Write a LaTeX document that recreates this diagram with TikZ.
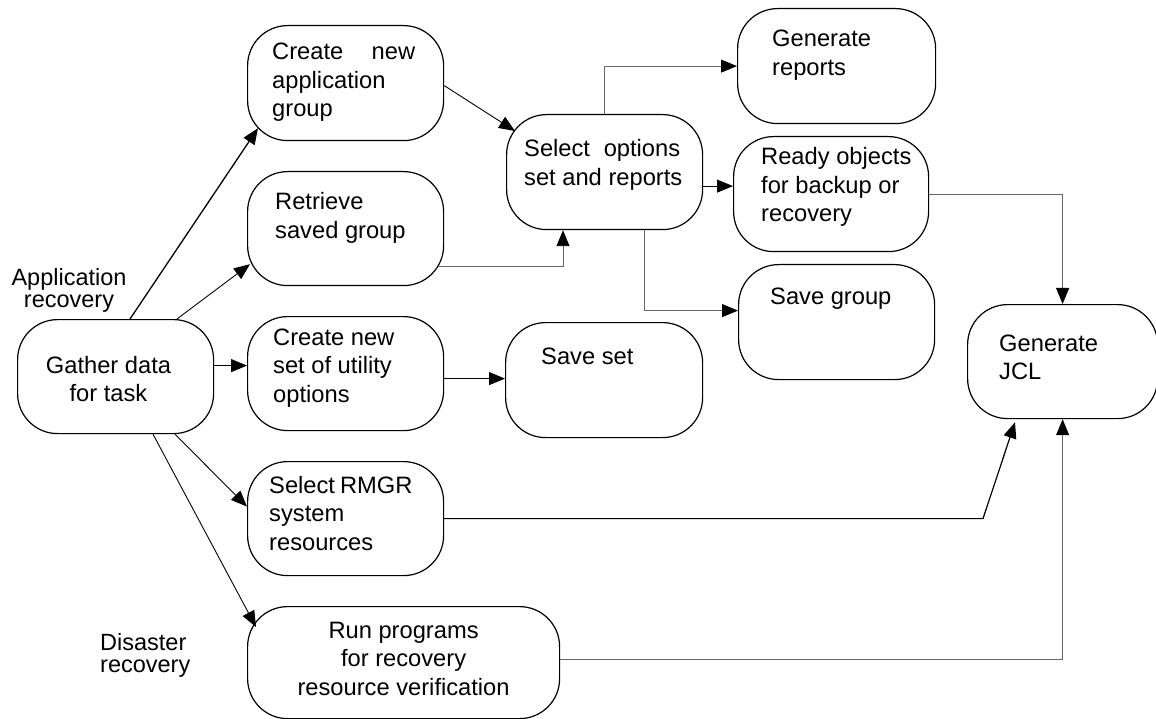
\documentclass[tikz,border=0pt]{standalone}
\usepackage{fontspec}
\setmainfont{Liberation Sans}
\usetikzlibrary{arrows.meta,calc}
\begin{document}
\begin{tikzpicture}[x=1pt,y=-1pt,
  stepbox/.style={draw, line width=1.2pt, rounded corners=40pt, inner sep=0pt,
    anchor=north west, minimum width=196pt, minimum height=115pt},
  txt/.style={inner sep=0pt, anchor=base west, font=\fontsize{23.7}{28.5}\selectfont},
  ctxt/.style={txt, anchor=base},
  lbl/.style={inner sep=0pt, font=\fontsize{23.5}{22}\selectfont},
  conn/.style={line width=0.9pt, -{Triangle[length=16pt,width=13pt,color=black]}},
  greyline/.style={draw=black!60},
  boldline/.style={line width=1.3pt}]
\useasboundingbox (0,0) rectangle (1156,719);

% process boxes
\node[stepbox, minimum height=114pt] (gather) at (17,319) {};
\node[stepbox] (appgrp) at (247,25) {};
\node[stepbox, minimum height=114pt] (retr) at (247,171) {};
\node[stepbox, minimum height=114pt] (newset) at (247,316) {};
\node[stepbox, minimum height=114pt] (rmgr) at (247,461) {};
\node[stepbox, minimum width=312pt, minimum height=112pt] (runprog) at (247,606) {};
\node[stepbox] (selopt) at (506,114) {};
\node[stepbox, minimum width=197pt] (saveset) at (505,322) {};
\node[stepbox, minimum width=198pt] (genrep) at (737,8) {};
\node[stepbox, minimum width=195pt] (ready) at (733,136) {};
\node[stepbox] (savegrp) at (738,264) {};
\node[stepbox, minimum width=190pt, minimum height=114pt] (jcl) at (967,304) {};

% box texts
\node[ctxt] (tgather) at ($(gather.north west)+(91.5,54)$)
  {\begin{tabular}[t]{@{}c@{}}Gather data\\for task\end{tabular}};
\node[txt] (tappgrp) at ($(appgrp.north west)+(25,35)$)
  {\begin{tabular}[t]{@{}l@{}}\makebox[143pt][s]{Create new}\\application\\group\end{tabular}};
\node[txt] (tretr) at ($(retr.north west)+(28,39)$)
  {\begin{tabular}[t]{@{}l@{}}Retrieve\\saved group\end{tabular}};
\node[txt] (tnewset) at ($(newset.north west)+(26,29)$)
  {\begin{tabular}[t]{@{}l@{}}Create new\\set of utility\\options\end{tabular}};
\node[txt] (trmgr) at ($(rmgr.north west)+(22,32)$)
  {\begin{tabular}[t]{@{}l@{}}Select\hspace{-1.5pt} RMGR\\system\\resources\end{tabular}};
\node[ctxt] (trunprog) at ($(runprog.north)+(0,32)$)
  {\begin{tabular}[t]{@{}c@{}}Run programs\\for recovery\\resource verification\end{tabular}};
\node[txt] (tselopt) at ($(selopt.north west)+(18,43)$)
  {\begin{tabular}[t]{@{}l@{}}\makebox[156pt][s]{Select options}\\set and reports\end{tabular}};
\node[txt] (tsaveset) at ($(saveset.north west)+(36,42)$) {Save set};
\node[txt] (tgenrep) at ($(genrep.north west)+(35,39)$)
  {\begin{tabular}[t]{@{}l@{}}Generate\\reports\end{tabular}};
\node[txt] (tready) at ($(ready.north west)+(28,29)$)
  {\begin{tabular}[t]{@{}l@{}}Ready objects\\for backup or\\recovery\end{tabular}};
\node[txt] (tsavegrp) at ($(savegrp.north west)+(32,40)$) {Save group};
\node[txt] (tjcl) at ($(jcl.north west)+(32,47)$)
  {\begin{tabular}[t]{@{}l@{}}Generate\\JCL\end{tabular}};

% path labels
\node[lbl, anchor=base] (lapp) at (69,285)
  {\begin{tabular}[t]{@{}c@{}}Application\\recovery\end{tabular}};
\node[lbl, anchor=base west] (ldis) at (100,650)
  {\begin{tabular}[t]{@{}l@{}}Disaster\\recovery\end{tabular}};

% connectors from the starting task
\draw[conn, boldline] ($(gather.north west)+(113,0)$) -- ($(appgrp.south west)+(11,-13)$);
\draw[conn] ($(gather.north west)+(160,0)$) -- ($(retr.south west)+(3,-22)$);
\coordinate (g3) at ($(gather.east)+(0,-11)$);
\draw[conn] (g3) -- (g3 -| newset.west);
\draw[conn] ($(gather.south west)+(158,0)$) -- ($(rmgr.west)+(0,-12)$);
\draw[conn] ($(gather.south west)+(136,0)$) -- ($(runprog.north west)+(9,21)$);

% group and option paths
\draw[conn] ($(appgrp.east)+(0,2.5)$) -- ($(selopt.north west)+(9,17)$);
\coordinate (r7) at ($(retr.south east)+(-6,-20)$);
\coordinate (s7) at ($(selopt.south west)+(57,0)$);
\draw[conn, greyline] (r7) -| (s7);
\draw[conn, greyline] (selopt.north) |- (genrep.west);
\coordinate (c9) at ($(selopt.east)+(0,14)$);
\draw[conn] (c9) -- (c9 -| ready.west);
\coordinate (c10) at ($(savegrp.west)+(0,-11.5)$);
\draw[conn, greyline] ($(selopt.south west)+(138,0)$) |- (c10);
\coordinate (c11) at ($(newset.east)+(0,5)$);
\draw[conn] (c11) -- (c11 -| saveset.west);

% paths into JCL generation
\draw[conn, greyline] (ready.east) -| (jcl.north);
\coordinate (k13) at ($(rmgr.east -| jcl.south west)+(16,0)$);
\draw[conn, line width=1.2pt] (rmgr.east) -- (k13) -- ($(jcl.south west)+(48,3)$);
\coordinate (c14) at ($(runprog.east)+(0,-3)$);
\draw[conn, greyline] (c14) -| (jcl.south);
\end{tikzpicture}
\end{document}
